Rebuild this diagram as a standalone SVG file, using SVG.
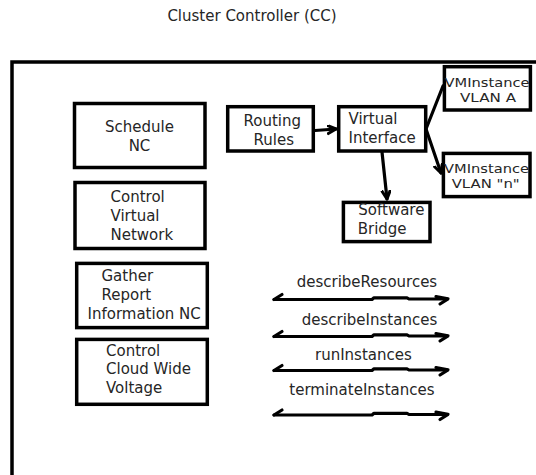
<svg xmlns="http://www.w3.org/2000/svg" width="536" height="475" viewBox="0 0 536 475">
  <style>
    .box { fill: #fff; stroke: #000; stroke-width: 3.5; }
    .lbl { font-family: "DejaVu Sans", "Liberation Sans", sans-serif; font-size: 15px; fill: #262626; }
    .sm { font-size: 13px; }
    .wire { fill: none; stroke: #000; stroke-width: 3.2; stroke-linecap: round; stroke-linejoin: round; }
  </style>
  <defs>
    <marker id="head" markerUnits="userSpaceOnUse" markerWidth="14" markerHeight="14" refX="9" refY="5" orient="auto">
      <path d="M1,1 L9,5 L1,9" fill="none" stroke="#000" stroke-width="3" stroke-linecap="round" stroke-linejoin="round"/>
    </marker>
  </defs>

  <rect width="536" height="475" fill="#fff"/>

  <!-- title -->
  <text class="lbl" x="252" y="21" text-anchor="middle">Cluster Controller (CC)</text>

  <!-- outer controller frame (top and left edges) -->
  <path d="M12,475 V62 H536" fill="none" stroke="#000" stroke-width="3.5"/>

  <g id="schedule-nc">
    <rect class="box" x="74.5" y="103.5" width="130.5" height="64"/>
    <text class="lbl" x="139.5" y="132" text-anchor="middle">Schedule</text>
    <text class="lbl" x="139.5" y="150.5" text-anchor="middle">NC</text>
  </g>

  <g id="control-virtual-network">
    <rect class="box" x="75" y="182.5" width="130" height="66"/>
    <text class="lbl" x="110.5" y="202">Control</text>
    <text class="lbl" x="110.5" y="221">Virtual</text>
    <text class="lbl" x="110.5" y="239.5">Network</text>
  </g>

  <g id="gather-report">
    <rect class="box" x="76.7" y="263.4" width="130.6" height="64.2"/>
    <text class="lbl" x="101.5" y="281">Gather</text>
    <text class="lbl" x="101.5" y="300">Report</text>
    <text class="lbl" x="87.5" y="318.5">Information NC</text>
  </g>

  <g id="control-cloud">
    <rect class="box" x="76.7" y="339.4" width="130.6" height="64.9"/>
    <text class="lbl" x="106" y="355.5">Control</text>
    <text class="lbl" x="106" y="374">Cloud Wide</text>
    <text class="lbl" x="106" y="393">Voltage</text>
  </g>

  <g id="routing-rules">
    <rect class="box" x="227.7" y="106.7" width="85.6" height="44.3"/>
    <text class="lbl" x="243.5" y="126">Routing</text>
    <text class="lbl" x="253.5" y="144.5">Rules</text>
  </g>

  <g id="virtual-interface">
    <rect class="box" x="338.7" y="106.7" width="87" height="44.3"/>
    <text class="lbl" x="348.5" y="124">Virtual</text>
    <text class="lbl" x="348.5" y="142.5">Interface</text>
  </g>

  <g id="vm-vlan-a">
    <rect class="box" x="444.4" y="66.7" width="86" height="43.3"/>
    <text class="lbl sm" x="444.5" y="87" textLength="85" lengthAdjust="spacingAndGlyphs">VMInstance</text>
    <text class="lbl sm" x="460" y="102.3" textLength="56" lengthAdjust="spacingAndGlyphs">VLAN A</text>
  </g>

  <g id="vm-vlan-n">
    <rect class="box" x="443.4" y="153.4" width="86.6" height="43.2"/>
    <text class="lbl sm" x="444" y="173" textLength="85" lengthAdjust="spacingAndGlyphs">VMInstance</text>
    <text class="lbl sm" x="451.7" y="188.3" textLength="68" lengthAdjust="spacingAndGlyphs">VLAN "n"</text>
  </g>

  <g id="software-bridge">
    <rect class="box" x="343.4" y="202.4" width="86.6" height="39.2"/>
    <text class="lbl" x="358.3" y="215.3">Software</text>
    <text class="lbl" x="357.7" y="234">Bridge</text>
  </g>

  <!-- calls exchanged with the node controllers -->
  <g id="calls">
    <text class="lbl" x="296.7" y="287">describeResources</text>
    <text class="lbl" x="301.7" y="325">describeInstances</text>
    <text class="lbl" x="315" y="360">runInstances</text>
    <text class="lbl" x="289.3" y="395">terminateInstances</text>
  </g>

  <g id="connectors">
    <path class="wire" d="M315,130.5 L336,129" marker-end="url(#head)"/>
    <path class="wire" d="M426,129 L443,86"/>
    <path class="wire" d="M426,129 L441,173" marker-end="url(#head)"/>
    <path class="wire" d="M382,152 L387,199" marker-end="url(#head)"/>

    <!-- two-way call lines -->
    <path class="wire" d="M274,299.5 H372 L374,297.8 H407 L409,299 H447"/>
    <path class="wire" d="M282,294.5 L274,299.5"/>
    <path class="wire" d="M436,296.5 L448,298.8 L440,304"/>

    <path class="wire" d="M274,336.5 H372 L374,334.8 H407 L409,336 H447"/>
    <path class="wire" d="M282,331.5 L274,336.5"/>
    <path class="wire" d="M436,333.5 L448,335.8 L440,341"/>

    <path class="wire" d="M274,370.5 H372 L374,368.8 H407 L409,370 H447"/>
    <path class="wire" d="M282,365.5 L274,370.5"/>
    <path class="wire" d="M436,367.5 L448,369.8 L440,375"/>

    <path class="wire" d="M274,415 H372 L374,413.3 H407 L409,414.5 H447"/>
    <path class="wire" d="M282,410 L274,415"/>
    <path class="wire" d="M436,412 L448,414.3 L440,419.5"/>
  </g>
</svg>
